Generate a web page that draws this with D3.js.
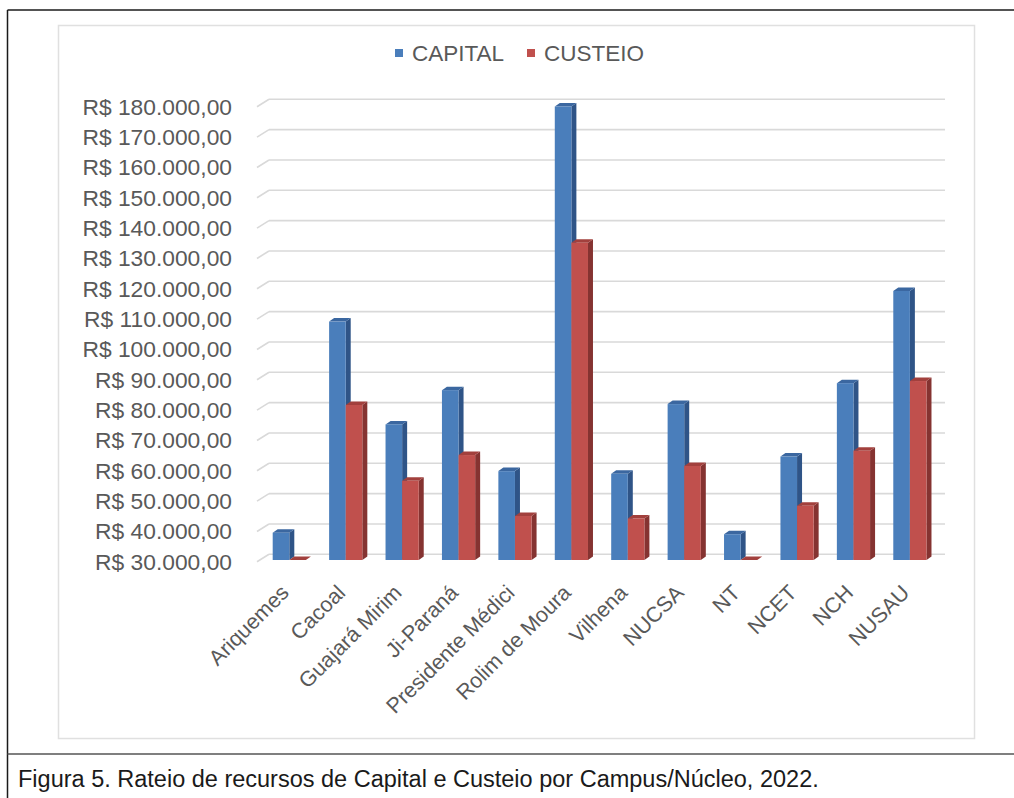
<!DOCTYPE html>
<html>
<head>
<meta charset="utf-8">
<script src="https://cdn.jsdelivr.net/npm/d3@7"></script>
<style>
  html, body { margin: 0; padding: 0; background: #fff; }
  svg { display: block; }
  text { font-family: "Liberation Sans", Arial, sans-serif; }
</style>
</head>
<body>
<svg id="chart" width="1014" height="798"></svg>
<script>
// Campus / núcleo names
const categories = ["Ariquemes", "Cacoal", "Guajará Mirim", "Ji-Paraná", "Presidente Médici",
  "Rolim de Moura", "Vilhena", "NUCSA", "NT", "NCET", "NCH", "NUSAU"];
// Amounts in R$
const capital = [39000, 108600, 74700, 86000, 59300, 179500, 58400, 81400, 38500, 64100, 88300, 118700];
const custeio = [30000, 81100, 56100, 64600, 44500, 134600, 43700, 61000, 30000, 47900, 66000, 89000];
const seriesNames = ["CAPITAL", "CUSTEIO"];
const yTicks = [30000, 40000, 50000, 60000, 70000, 80000, 90000, 100000, 110000,
  120000, 130000, 140000, 150000, 160000, 170000, 180000];
const caption = "Figura 5. Rateio de recursos de Capital e Custeio por Campus/Núcleo, 2022.";

const palette = [
  { front: "#4a7ebb", top: "#3b67a0", side: "#2f5487" },
  { front: "#c0504d", top: "#a2403d", side: "#853331" }
];

const svg = d3.select("#chart");

// Page frame and caption separator
svg.append("line").attr("x1", 7.5).attr("x2", 1014).attr("y1", 10).attr("y2", 10)
  .attr("stroke", "#1a1a1a").attr("stroke-width", 1.5);
svg.append("line").attr("x1", 7.5).attr("x2", 7.5).attr("y1", 10).attr("y2", 798)
  .attr("stroke", "#1a1a1a").attr("stroke-width", 1.5);
svg.append("line").attr("x1", 7.5).attr("x2", 1014).attr("y1", 754).attr("y2", 754)
  .attr("stroke", "#555").attr("stroke-width", 1.5);

// Chart area box
svg.append("rect").attr("x", 58.5).attr("y", 25.5).attr("width", 916).attr("height", 713)
  .attr("fill", "#fff").attr("stroke", "#e0e0e0").attr("stroke-width", 1.5);

// Scales
const y = d3.scaleLinear().domain([30000, 180000]).range([560, 105]);
const x = d3.scaleBand().domain(categories).range([257, 934]);
const depthX = 12, depthY = 7.5;   // wall depth
const barW = 16.6, barOff = 15.7, bdx = 5, bdy = 3.5;  // column geometry

const fmt = v => "R$ " + d3.format(",.2f")(v).replace(/,/g, "#").replace(/\./g, ",").replace(/#/g, ".");

// Back-wall gridlines and side-wall edges
const grid = svg.append("g");
yTicks.forEach(v => {
  const yf = y(v) + 1.8;
  grid.append("line").attr("x1", 257 + depthX).attr("x2", 945)
    .attr("y1", yf - depthY).attr("y2", yf - depthY)
    .attr("stroke", "#d9d9d9").attr("stroke-width", 1.6);
  grid.append("line").attr("x1", 257).attr("x2", 257 + depthX)
    .attr("y1", yf).attr("y2", yf - depthY)
    .attr("stroke", "#d9d9d9").attr("stroke-width", 1.6);
});

// Y axis labels
svg.append("g").selectAll("text").data(yTicks).join("text")
  .attr("x", 232).attr("y", d => y(d) + 1.7)
  .attr("text-anchor", "end").attr("dominant-baseline", "central")
  .attr("font-size", 22.8).attr("fill", "#595959")
  .text(d => fmt(d));

// 3D columns
const bars = svg.append("g");
categories.forEach((c, i) => {
  [capital[i], custeio[i]].forEach((v, s) => {
    const x0 = x(c) + barOff + s * barW;
    const yt = y(v), yb = y(30000);
    const col = palette[s];
    const g = bars.append("g");
    g.append("polygon")
      .attr("points", [[x0 + barW, yt], [x0 + barW + bdx, yt - bdy], [x0 + barW + bdx, yb - bdy], [x0 + barW, yb]].join(" "))
      .attr("fill", col.side);
    g.append("polygon")
      .attr("points", [[x0, yt], [x0 + bdx, yt - bdy], [x0 + barW + bdx, yt - bdy], [x0 + barW, yt]].join(" "))
      .attr("fill", col.top);
    if (yb - yt > 0) {
      g.append("rect").attr("x", x0).attr("y", yt).attr("width", barW).attr("height", yb - yt)
        .attr("fill", col.front);
    }
  });
});

// Category labels
svg.append("g").selectAll("text").data(categories).join("text")
  .attr("transform", d => `translate(${x(d) + x.bandwidth() / 2 + 5},${594}) rotate(-45)`)
  .attr("text-anchor", "end")
  .attr("font-size", 21.5).attr("fill", "#595959")
  .text(d => d);

// Legend
const legend = svg.append("g");
const legendItems = [{ name: seriesNames[0], x: 395 }, { name: seriesNames[1], x: 527 }];
legendItems.forEach((d, i) => {
  legend.append("rect").attr("x", d.x).attr("y", 49).attr("width", 8).attr("height", 8)
    .attr("fill", palette[i].front);
  legend.append("text").attr("x", d.x + 17).attr("y", 61)
    .attr("font-size", 22.5).attr("fill", "#595959").text(d.name);
});

// Caption
svg.append("text").attr("x", 18).attr("y", 787)
  .attr("font-size", 23.5).attr("fill", "#1a1a1a").text(caption);
</script>
</body>
</html>
